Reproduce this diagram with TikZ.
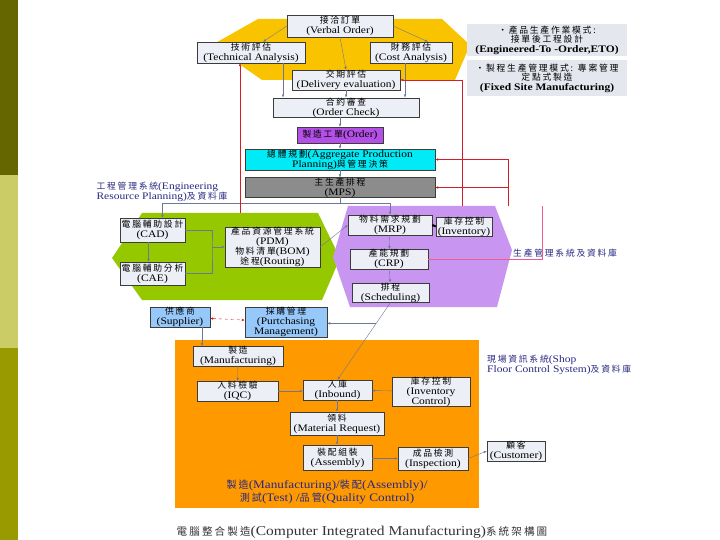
\documentclass[tikz,border=0pt]{standalone}
\usepackage{fontspec}
\setmainfont[FakeStretch=1.15]{Liberation Serif}
\newfontfamily\cjkfont[Scale=0.88,LetterSpace=20]{Noto Sans CJK TC}
\newcommand{\zh}[1]{{\cjkfont #1}}
\usetikzlibrary{arrows.meta}

\definecolor{stripdark}{RGB}{102,102,0}
\definecolor{striplight}{RGB}{204,204,102}
\definecolor{stripmid}{RGB}{153,153,0}
\definecolor{yellowbg}{RGB}{250,195,0}
\definecolor{greenbg}{RGB}{150,200,0}
\definecolor{purplebg}{RGB}{200,150,240}
\definecolor{orangebg}{RGB}{255,153,0}
\definecolor{boxfill}{RGB}{236,239,245}
\definecolor{boxline}{RGB}{60,60,60}
\definecolor{bluebox}{RGB}{150,200,250}
\definecolor{orderfill}{RGB}{180,80,230}
\definecolor{cyanfill}{RGB}{0,235,245}
\definecolor{mpsfill}{RGB}{140,140,140}
\definecolor{notefill}{RGB}{228,232,238}
\definecolor{arrgray}{RGB}{110,120,150}
\definecolor{redline}{RGB}{210,30,40}
\definecolor{pinkline}{RGB}{240,90,140}
\definecolor{navy}{RGB}{40,40,130}

\begin{document}
\begin{tikzpicture}[x=1pt, y=-1pt,
  box/.style={draw=boxline, fill=boxfill, align=center, inner sep=0pt,
    font=\fontsize{10}{10}\selectfont},
  sz/.style 2 args={minimum width=#1pt, minimum height=#2pt},
  note/.style={fill=notefill, align=center, inner sep=0pt,
    font=\fontsize{10}{9.5}\selectfont},
  lbl/.style={text=navy, inner sep=0pt, font=\fontsize{10}{10}\selectfont},
  arr/.style={-{Latex[length=3pt,width=2.5pt]}, draw=arrgray, thin},
  redarr/.style={-{Latex[length=3pt,width=2.5pt]}, draw=redline, thin}]
\useasboundingbox (0,0) rectangle (720,540);

% left strip
\fill[stripdark] (0,0) rectangle (18,175);
\fill[striplight] (0,175) rectangle (18,348);
\fill[stripmid] (0,348) rectangle (18,540);

% background areas
\fill[yellowbg] (258,19) -- (442,19) -- (470,45) -- (455,80) -- (262,80) -- (212,45) -- cycle;
\fill[greenbg] (142,213) -- (318,213) -- (340,258) -- (322,300) -- (142,300) -- (112,258) -- cycle;
\fill[purplebg] (348,206) -- (495,206) -- (512,250) -- (497,307) -- (350,307) -- (333,257) -- cycle;
\fill[orangebg] (175,340) rectangle (479,508);

% order handling
\node[box, sz={106}{22}] (vo) at (340,26) {\zh{接洽訂單}\\(Verbal Order)};
\node[box, sz={108}{21}] (ta) at (251,52.5) {\zh{技術評估}\\(Technical Analysis)};
\node[box, sz={82}{21}] (ca) at (411,52.5) {\zh{財務評估}\\(Cost Analysis)};
\node[box, sz={108}{20}] (de) at (346,80) {\zh{交期評估}\\(Delivery evaluation)};
\node[box, sz={146}{19}] (oc) at (346,107.5) {\zh{合約審查}\\(Order Check)};
\node[box, sz={86}{16}, fill=orderfill] (ord) at (340,135) {\zh{製造工單}(Order)};
\node[box, sz={190}{21}, fill=cyanfill] (app) at (340,159.5) {\zh{總體規劃}(Aggregate Production\\Planning)\zh{與管理決策}};
\node[box, sz={190}{19}, fill=mpsfill] (mps) at (340,187.5) {\zh{主生產排程}\\(MPS)};

% engineering
\node[box, sz={65}{24}] (cad) at (152.5,230) {\zh{電腦輔助設計}\\(CAD)};
\node[box, sz={65}{23}] (cae) at (152.5,273.5) {\zh{電腦輔助分析}\\(CAE)};
\node[box, sz={95}{40}] (pdm) at (272.5,247) {\zh{產品資源管理系統}\\(PDM)\\\zh{物料清單}(BOM)\\\zh{途程}(Routing)};

% production management
\node[box, sz={84}{20}] (mrp) at (390,225) {\zh{物料需求規劃}\\(MRP)};
\node[box, sz={56}{19}] (inv) at (464,226.5) {\zh{庫存控制}\\(Inventory)};
\node[box, sz={78}{18}] (crp) at (389,259) {\zh{產能規劃}\\(CRP)};
\node[box, sz={77}{19}] (sch) at (390.5,292.5) {\zh{排程}\\(Scheduling)};

% purchasing
\node[box, sz={60}{20}, fill=bluebox] (sup) at (180,317) {\zh{供應商}\\(Supplier)};
\node[box, sz={82}{30}, fill=bluebox] (pur) at (286,322) {\zh{採購管理}\\(Purtchasing\\Management)};

% shop floor
\node[box, sz={90}{18}] (mfg) at (238,356) {\zh{製造}\\(Manufacturing)};
\node[box, sz={81}{18}] (iqc) at (237.5,391) {\zh{入料檢驗}\\(IQC)};
\node[box, sz={69}{20}] (inb) at (337.5,390) {\zh{入庫}\\(Inbound)};
\node[box, sz={78}{29}] (ivc) at (431,391.5) {\zh{庫存控制}\\(Inventory\\Control)};
\node[box, sz={94}{23}] (mr) at (337,423.5) {\zh{領料}\\(Material Request)};
\node[box, sz={69}{25}] (asm) at (337.5,457.5) {\zh{裝配組裝}\\(Assembly)};
\node[box, sz={70}{23}] (isp) at (433,458.5) {\zh{成品檢測}\\(Inspection)};
\node[box, sz={58}{18}] (cus) at (516,451) {\zh{顧客}\\(Customer)};

% notes
\node[note, sz={160}{32}] (n1) at (547,40) {\zh{・產品生產作業模式:}\\\zh{接單後工程設計}\\\textbf{(Engineered-To -Order,ETO)}};
\node[note, sz={160}{36}] (n2) at (547,78) {\zh{・製程生產管理模式: 專案管理}\\\zh{定點式製造}\\\textbf{(Fixed Site Manufacturing)}};

% labels
\node[lbl, align=left] (erp) at (162,192) {\zh{工程管理系統}(Engineering\\Resource Planning)\zh{及資料庫}};
\node[lbl, anchor=west] (pms) at (513,253) {\zh{生產管理系統及資料庫}};
\node[lbl, align=left, anchor=north west] (sfc) at (487,355) {\zh{現場資訊系統}(Shop\\Floor Control System)\zh{及資料庫}};
\node[lbl, align=center, font=\fontsize{11.5}{10.5}\selectfont] (qc) at (327,492) {\zh{製造}(Manufacturing)/\zh{裝配}(Assembly)/\\\zh{測試}(Test) /\zh{品管}(Quality Control)};
\node[inner sep=0pt, text=black!80, font=\fontsize{13.5}{13.5}\selectfont] (cap) at (362,532) {{\fontsize{12}{12}\selectfont\zh{電腦整合製造}}(Computer Integrated Manufacturing){\fontsize{12}{12}\selectfont\zh{系統架構圖}}};

% order flow
\draw[arr] (vo.west) -- ([xshift=12pt]ta.north);
\draw[arr] (vo.east) -- ([xshift=17pt]ca.north);
\draw[arr] (vo.south) -- (de.north);
\draw[arr] ([xshift=32pt]ta.south) -- ([xshift=-63pt]oc.north);
\draw[arr] (de) -- (oc);
\draw[arr] ([xshift=-6pt]ca.south) -- ([xshift=59pt]oc.north);
\draw[arr] (oc.south -| ord.north) -- (ord.north);
\draw[arr] (ord) -- (app);
\draw[arr] (app) -- (mps);
\draw[arr] (mps.south) -- ++(0,6) -| ([xshift=10pt]cad.north);
\draw[arr] (mps.south) -- ++(0,6) -| (mrp.north);

% engineering links
\draw[arr] ([xshift=-4pt]cad.south) -- ([xshift=-4pt]cae.north);
\coordinate (brk) at (212,247);
\draw[arrgray, thin] (cad.east) -| (brk) |- (cae.east);
\draw[arr] (brk) -- (pdm.west);
\draw[arr] (pdm.east) -- (mrp.west);

% production links
\draw[line width=2pt] (mrp.east) -- (inv.west);
\draw[arr] (mrp) -- (crp);
\draw[arr] (crp) -- (sch);
\draw[arr] (sch.south) -- coordinate[pos=0.27] (spl) (inb.north);
\draw[arr] (spl) -- (spl -| pur.east);
\draw[redline, dashed, {Latex[length=3pt,width=2.5pt]}-{Latex[length=3pt,width=2.5pt]}] (sup) -- (pur);
\draw[arr] ([xshift=22pt]sup.south) -- ([xshift=-36pt]mfg.north);

% shop floor links
\draw[arr] (mfg) -- (iqc);
\draw[arr] (iqc.east) -- (inb.west |- iqc.east);
\draw[arr] (ivc) -- (inb);
\draw[arr] (inb.south -| mr.north) -- (mr);
\draw[arr] (mr) -- (asm.north -| mr.north);
\draw[arr] (asm.east |- isp.west) -- (isp);
\draw[arr] (isp.east) -- (cus.west);

% feedback lines
\coordinate (eng) at (240,213);
\draw[redarr] (eng) -- (eng |- ta.south);
\coordinate (pm1) at (462,206);
\draw[redarr] (pm1) |- (de.east);
\coordinate (pm2) at (508,206);
\draw[redarr] (pm2) |- (app.east);
\draw[redarr] (pm2 |- mps.east) -- (mps.east);
\draw[pinkline] (crp.east) -- (542,259) -- (542,206);
\end{tikzpicture}
\end{document}
